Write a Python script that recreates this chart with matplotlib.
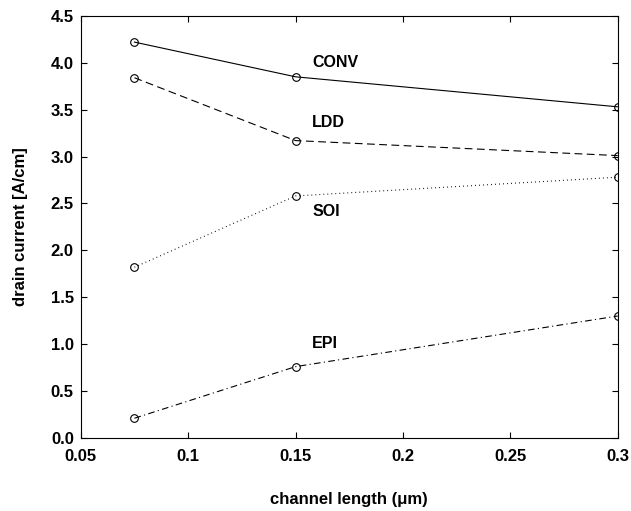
import matplotlib
matplotlib.use("Agg")
import matplotlib.pyplot as plt

# channel length in um
lengths = [0.075, 0.15, 0.3]

# drain current [A/cm] for each device
conv = [4.22, 3.85, 3.53]
ldd = [3.84, 3.17, 3.01]
soi = [1.82, 2.58, 2.78]
epi = [0.21, 0.76, 1.30]

names = ["CONV", "LDD", "SOI", "EPI"]
label_y = [4.00, 3.36, 2.41, 1.01]

plt.rcParams['font.family'] = ['Liberation Sans', 'DejaVu Sans']
plt.rcParams['font.weight'] = 'bold'

fig = plt.figure(figsize=(6.31, 5.11), dpi=100)
ax = fig.add_axes([0.128, 0.143, 0.851, 0.826])

styles = ['-', (0, (7, 4)), (0, (0.8, 2.8)), (0, (6, 3, 1, 3))]
for vals, ls in zip([conv, ldd, soi, epi], styles):
    ax.plot(lengths, vals, color='black', linestyle=ls, linewidth=0.8,
            marker='o', markersize=5.5, markerfacecolor='none',
            markeredgecolor='black', markeredgewidth=0.8)

for name, y in zip(names, label_y):
    ax.text(0.1577, y, name, fontsize=11.5, fontweight='bold',
            ha='left', va='center')

ax.set_xlim(0.05, 0.3)
ax.set_ylim(0, 4.5)
ax.set_xticks([0.05, 0.1, 0.15, 0.2, 0.25, 0.3])
ax.set_xticklabels(['0.05', '0.1', '0.15', '0.2', '0.25', '0.3'])
ax.set_yticks([0, 0.5, 1, 1.5, 2, 2.5, 3, 3.5, 4, 4.5])
ax.set_yticklabels(['%.1f' % v for v in ax.get_yticks()])
ax.tick_params(direction='in', top=True, right=True, length=4, width=0.8,
               labelsize=12)
ax.tick_params(axis='x', pad=8)
ax.tick_params(axis='y', pad=5)
for sp in ax.spines.values():
    sp.set_linewidth(0.8)

ax.set_xlabel('channel length (\u03bcm)', fontsize=12, fontweight='bold',
              labelpad=20)
ax.set_ylabel('drain current [A/cm]', fontsize=12, fontweight='bold',
              labelpad=16)

fig.savefig('out.png', dpi=100)
